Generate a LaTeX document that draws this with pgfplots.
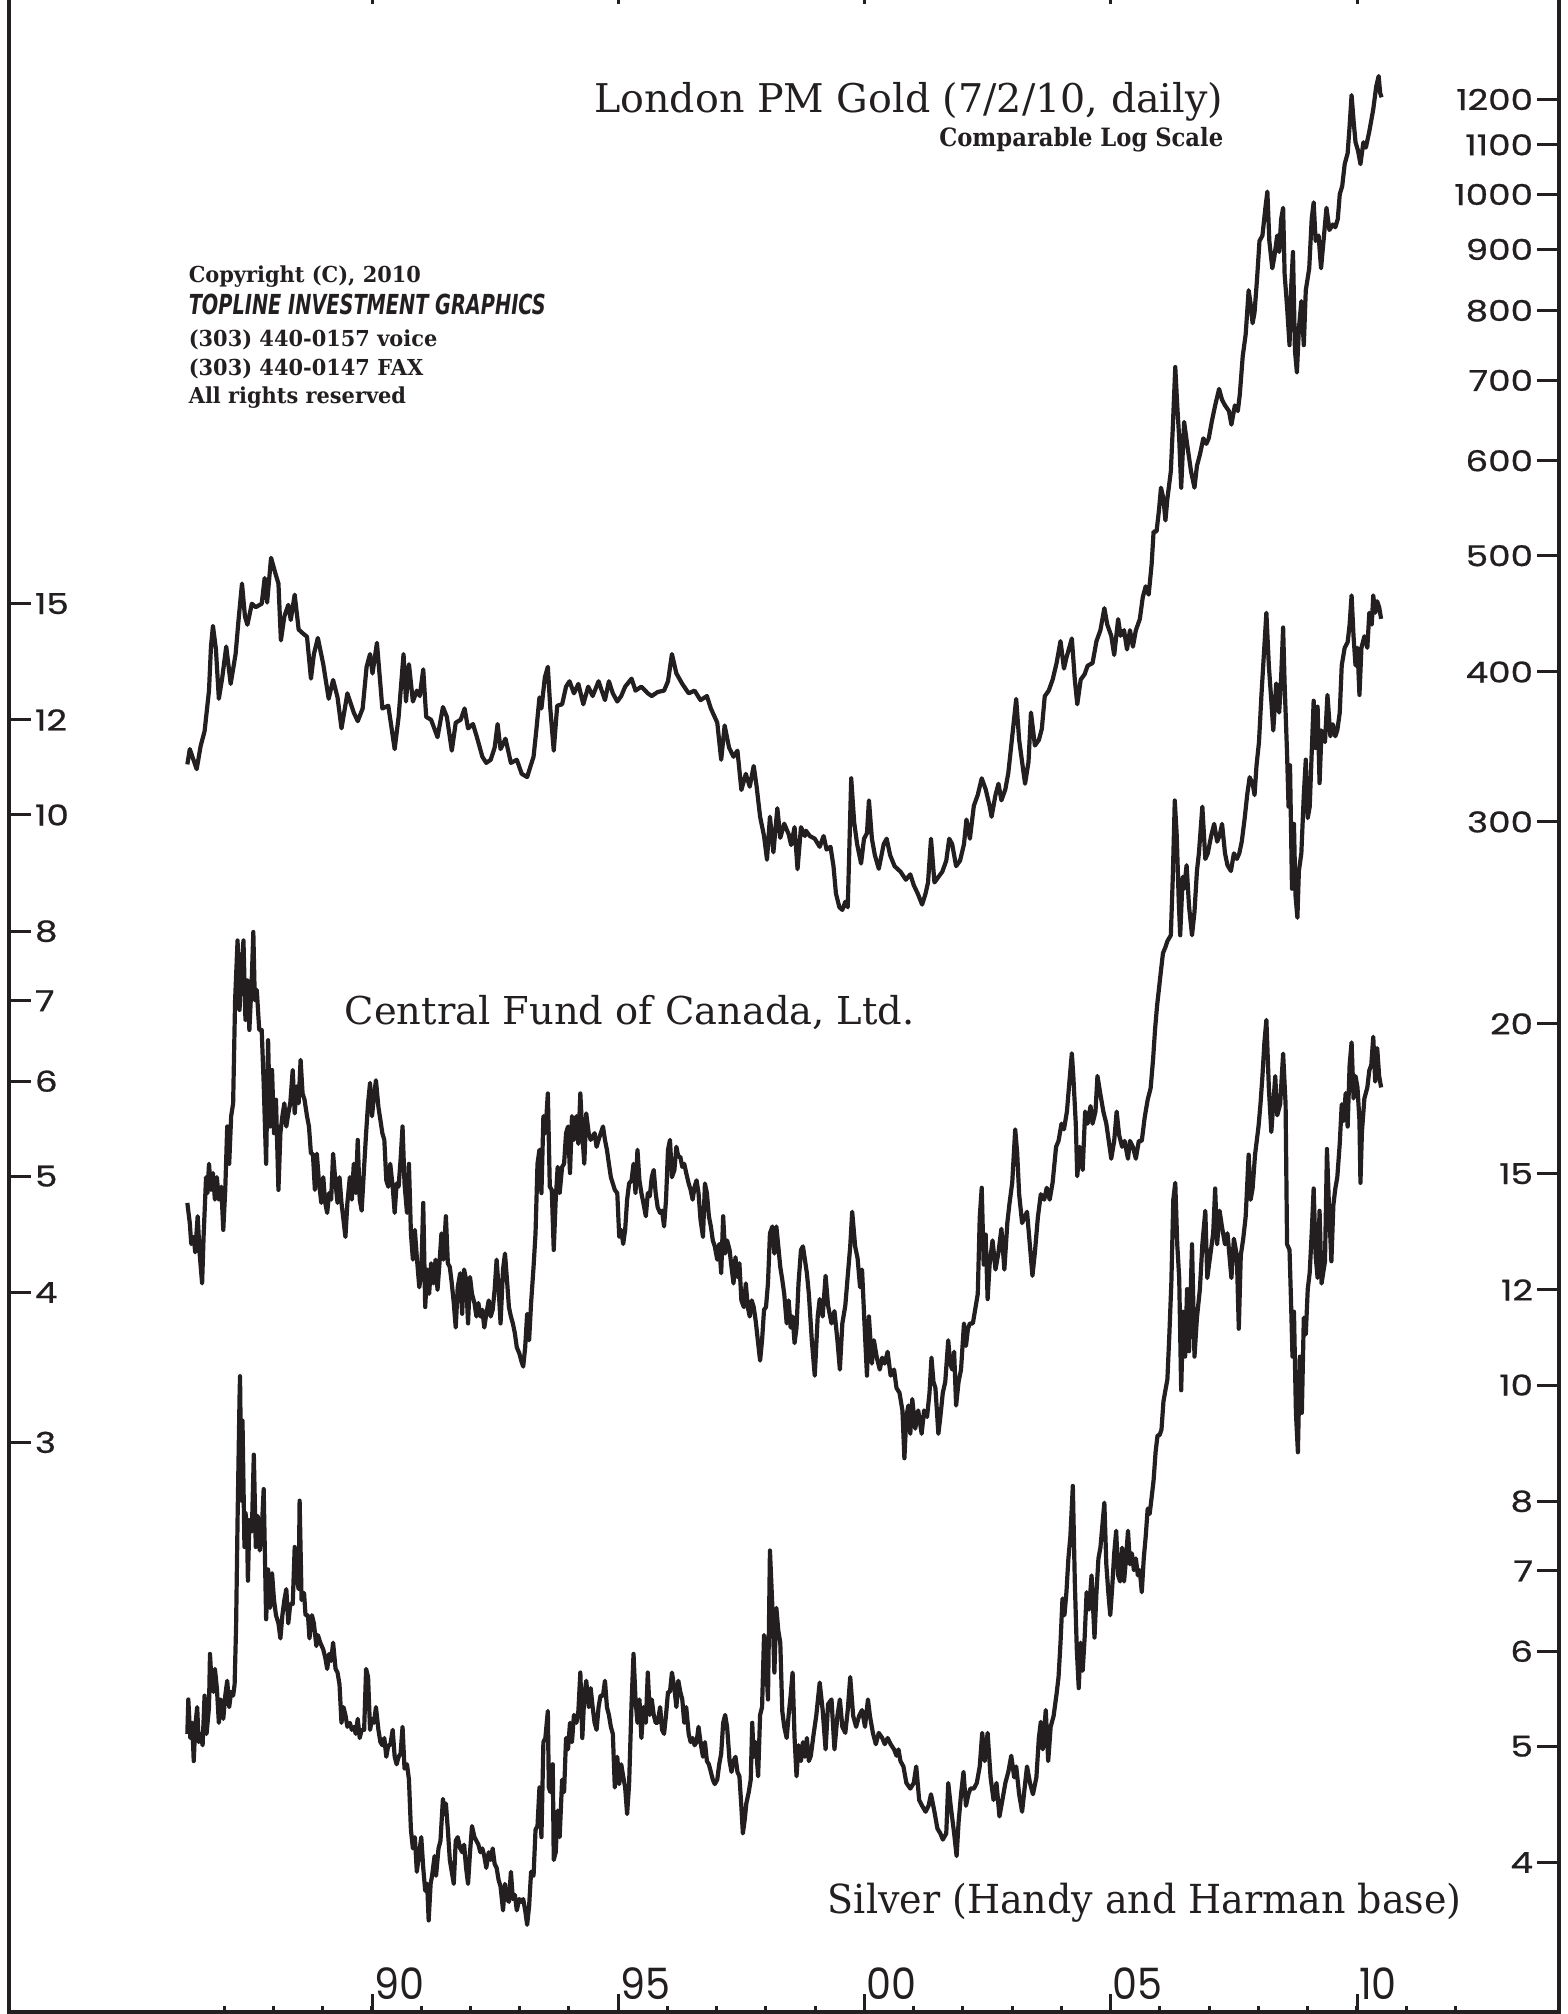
\documentclass[border=0pt]{standalone}
\usepackage{pgfplots}
\pgfplotsset{compat=1.18}
\usepackage{fontspec}
\setmainfont{DejaVu Serif}
\newfontfamily\tickfont{Poppins}
\newfontfamily\ytickfont[FakeBold=0.7]{Poppins}
\newfontfamily\sansfont{DejaVu Sans}
\definecolor{ink}{HTML}{231F20}
\newcommand\yl[1]{\scalebox{1.24}[1]{#1}}
\newcommand\xl[1]{\scalebox{0.92}[1]{#1}}
\pgfplotsset{
  chartbox/.style={
    at={(0,0)}, anchor=south west,
    scale only axis, width=387.5pt, height=506.5pt,
    xmin=1982.629, xmax=2014.102,
    axis line style={draw=none},
    xtick=\empty, yminorticks=false, ytick align=inside,
    major tick length=5.5pt,
    tick style={ink, line width=0.75pt},
    yticklabel style={font=\ytickfont\fontsize{7.2}{7.2}\selectfont, text=ink, inner sep=0.5pt},
  },
  myser/.style={ink, line width=1.05pt, line join=round, mark=none},
}
\begin{document}
\begin{tikzpicture}
% frame and year ticks
\begin{axis}[at={(0,0)}, anchor=south west, scale only axis, width=387.5pt, height=506.5pt,
  xmin=1982.629, xmax=2014.102, ymin=0, ymax=1, ytick=\empty,
  xtick={1990,1995,2000,2005,2010}, xticklabels={\xl{90},\xl{95},\xl{00},\xl{05},\xl{10}},
  minor xtick={1987,...,2012}, xtick align=inside,
  major tick length=4.4pt, minor tick length=1.6pt,
  axis line style={ink, line width=1pt}, tick style={ink, line width=0.75pt},
  xticklabel style={font=\tickfont\fontsize{10.8}{10.8}\selectfont, text=ink, anchor=south west, inner sep=0pt, yshift=3pt, xshift=0.3pt}]
\end{axis}
% Gold
\begin{axis}[chartbox, ymode=log, ymin=30.58, ymax=1492.1,
  ytick={300,400,500,600,700,800,900,1000,1100,1200},
  yticklabels={\yl{300},\yl{400},\yl{500},\yl{600},\yl{700},\yl{800},\yl{900},\yl{1000},\yl{1100},\yl{1200}},
  ytick pos=right, yticklabel pos=right,
  yticklabel style={anchor=east, xshift=-5.8pt}]
\addplot[myser] coordinates {
(1986.25,335)(1986.30,345)(1986.44,332)(1986.52,347)(1986.60,357)(1986.69,386)(1986.73,420)(1986.77,437)(1986.83,418)(1986.89,380)(1986.96,396)(1987.04,420)(1987.13,391)(1987.23,414)(1987.29,442)(1987.36,474)(1987.42,445)(1987.47,438)(1987.56,456)(1987.64,453)(1987.76,456)(1987.82,479)(1987.87,457)(1987.95,498)(1988.04,483)(1988.10,474)(1988.15,425)(1988.22,445)(1988.30,455)(1988.35,442)(1988.43,464)(1988.51,434)(1988.59,431)(1988.68,428)(1988.76,395)(1988.82,414)(1988.90,427)(1989.01,406)(1989.12,380)(1989.21,394)(1989.30,381)(1989.38,359)(1989.50,384)(1989.63,370)(1989.71,364)(1989.81,373)(1989.89,404)(1989.96,414)(1990.01,399)(1990.10,423)(1990.21,373)(1990.33,375)(1990.46,345)(1990.54,367)(1990.64,414)(1990.69,378)(1990.75,406)(1990.83,378)(1990.91,386)(1990.97,382)(1991.04,402)(1991.10,367)(1991.20,365)(1991.33,353)(1991.44,374)(1991.52,367)(1991.62,344)(1991.70,363)(1991.80,365)(1991.88,373)(1991.95,359)(1992.05,362)(1992.13,353)(1992.24,340)(1992.32,336)(1992.41,338)(1992.49,346)(1992.55,362)(1992.61,345)(1992.71,352)(1992.82,336)(1992.94,338)(1993.04,329)(1993.15,327)(1993.21,333)(1993.28,340)(1993.34,359)(1993.40,381)(1993.44,373)(1993.51,396)(1993.57,404)(1993.62,373)(1993.69,344)(1993.76,375)(1993.86,376)(1993.94,389)(1994.01,393)(1994.10,384)(1994.19,391)(1994.29,376)(1994.39,389)(1994.48,382)(1994.60,393)(1994.73,379)(1994.81,393)(1994.89,384)(1994.98,378)(1995.06,382)(1995.14,389)(1995.27,395)(1995.35,386)(1995.47,389)(1995.60,384)(1995.68,382)(1995.80,385)(1995.93,386)(1996.01,393)(1996.09,414)(1996.18,399)(1996.30,391)(1996.43,384)(1996.55,386)(1996.67,379)(1996.80,382)(1996.88,373)(1997.01,363)(1997.09,338)(1997.16,361)(1997.25,346)(1997.34,340)(1997.42,344)(1997.50,319)(1997.59,329)(1997.67,321)(1997.75,334)(1997.81,321)(1997.88,303)(1997.96,292)(1998.02,279)(1998.08,303)(1998.15,283)(1998.23,308)(1998.29,291)(1998.37,299)(1998.46,293)(1998.51,287)(1998.58,297)(1998.64,274)(1998.71,297)(1998.79,292)
(1998.81,295)(1998.89,292)(1998.99,290.5)(1999.09,286)(1999.17,292)(1999.23,284.5)(1999.31,286)(1999.37,275.6)(1999.42,261.5)(1999.49,254.7)(1999.55,253.4)(1999.61,257.4)(1999.66,254.7)(1999.73,326.2)(1999.79,299.8)(1999.85,287.5)(1999.93,277)(1999.99,290.5)(2000.05,293.6)(2000.09,312.7)(2000.15,290.5)(2000.21,281.5)(2000.29,274.2)(2000.39,287.5)(2000.45,290.5)(2000.52,281.5)(2000.61,275.6)(2000.73,272.7)(2000.84,268.5)(2000.93,271.3)(2001.00,265.7)(2001.08,261.5)(2001.17,256)(2001.24,261.5)(2001.29,267.1)(2001.35,290.5)(2001.42,267.1)(2001.50,269.9)(2001.58,272.7)(2001.66,278.5)(2001.72,290.5)(2001.78,287.5)(2001.86,275.6)(2001.94,278.5)(2002.02,287.5)(2002.07,301.4)(2002.14,290.5)(2002.22,309.4)(2002.30,316)(2002.38,326.2)(2002.46,319.4)(2002.54,309.4)(2002.58,303)(2002.66,316)(2002.72,322.8)(2002.78,312.7)(2002.86,319.4)(2002.92,329.6)(2002.98,347.4)(2003.08,379.9)(2003.14,351.1)(2003.20,336.6)(2003.26,322.8)(2003.33,336.6)(2003.38,370.1)(2003.46,347.4)(2003.54,351.1)(2003.60,358.6)(2003.66,381.9)(2003.74,386)(2003.82,394.2)(2003.90,406.9)(2003.98,424.4)(2004.05,402.6)(2004.10,411.1)(2004.21,426.6)(2004.27,394.2)(2004.32,376)(2004.39,394.2)(2004.47,398.4)(2004.53,404.8)(2004.63,406.9)(2004.71,424.4)(2004.79,433.4)(2004.87,452.1)(2004.93,438)(2005.01,428.8)(2005.07,413.3)(2005.15,442.7)(2005.20,428.8)(2005.27,433.4)(2005.33,417.7)(2005.39,433.4)(2005.45,419.9)(2005.51,433.4)(2005.59,442.7)(2005.65,461.7)(2005.71,471.5)(2005.77,464)(2005.83,491.8)(2005.87,523.7)(2005.93,523.7)(2005.98,546.2)(2006.02,569.7)(2006.07,557.8)(2006.11,535)(2006.15,557.8)(2006.22,587.9)(2006.26,639.6)(2006.31,718.2)(2006.35,667.2)(2006.39,626.3)(2006.43,569.7)(2006.49,646.4)(2006.55,619.7)(2006.63,587.9)(2006.70,569.7)(2006.75,594)(2006.81,607)(2006.88,626.3)(2006.94,619.7)(2006.99,626.3)(2007.05,646.4)(2007.12,667.2)(2007.20,688.6)(2007.26,674.3)(2007.32,667.2)(2007.40,660)(2007.45,643)(2007.52,667.2)(2007.58,660)(2007.62,681)(2007.68,733.4)(2007.74,764.9)(2007.80,832.1)(2007.84,810.5)(2007.88,781.2)(2007.92,797.8)(2007.97,849.8)(2008.02,914.6)(2008.08,924.3)(2008.14,974.7)(2008.18,1005.6)(2008.22,914.6)(2008.28,867.9)(2008.32,886.3)(2008.38,924.3)(2008.42,895.6)(2008.46,954)(2008.50,974.7)(2008.53,858.8)(2008.58,806.2)(2008.63,749)(2008.66,832)(2008.70,895.6)(2008.74,741)(2008.78,710.6)(2008.82,773)(2008.87,814.8)(2008.92,749)(2008.96,832)(2009.03,867.9)(2009.08,954)(2009.12,985)(2009.16,914.6)(2009.22,924.3)(2009.27,867.9)(2009.32,914.6)(2009.38,974.7)(2009.44,934.1)(2009.51,944)(2009.56,939)(2009.61,954)(2009.65,1000.4)(2009.70,1016.3)(2009.75,1060)(2009.81,1082.3)(2009.85,1140.7)(2009.89,1210)(2009.93,1152.7)(2009.97,1105.4)(2010.02,1088)(2010.07,1060)(2010.13,1105.4)(2010.18,1094)(2010.25,1128.8)(2010.33,1177.5)(2010.39,1230)(2010.44,1255)(2010.47,1215)(2010.50,1205)
};
\end{axis}
% Central Fund of Canada
\begin{axis}[chartbox, ymode=log, ymin=1.0056, ymax=49.07,
  ytick={3,4,5,6,7,8,10,12,15},
  yticklabels={\yl{3},\yl{4},\yl{5},\yl{6},\yl{7},\yl{8},\yl{10},\yl{12},\yl{15}},
  ytick pos=left, yticklabel pos=left,
  yticklabel style={anchor=west, xshift=5.8pt}]
\addplot[myser] coordinates {
(1986.25,4.75)(1986.30,4.57)(1986.33,4.39)(1986.38,4.45)(1986.41,4.32)(1986.46,4.63)(1986.50,4.31)(1986.55,4.07)(1986.58,4.45)(1986.63,4.99)(1986.66,4.84)(1986.69,5.12)(1986.73,4.87)(1986.77,5.03)(1986.81,4.78)(1986.85,4.99)(1986.89,4.78)(1986.94,4.90)(1986.98,4.51)(1987.02,4.87)(1987.06,5.50)(1987.10,5.12)(1987.14,5.61)(1987.18,5.75)(1987.22,7.01)(1987.27,7.86)(1987.31,6.88)(1987.35,7.47)(1987.39,7.86)(1987.43,6.75)(1987.47,7.28)(1987.51,6.62)(1987.56,7.33)(1987.59,7.99)(1987.62,7.01)(1987.66,7.15)(1987.71,6.62)(1987.76,6.62)(1987.80,5.98)(1987.85,5.12)(1987.89,6.49)(1987.93,5.50)(1987.97,6.13)(1988.01,5.43)(1988.05,5.79)(1988.10,4.87)(1988.14,5.43)(1988.18,5.61)(1988.22,5.75)(1988.26,5.50)(1988.30,5.64)(1988.34,5.75)(1988.39,6.13)(1988.43,5.64)(1988.47,5.94)(1988.51,5.75)(1988.55,6.25)(1988.59,5.86)(1988.63,5.79)(1988.68,5.61)(1988.72,5.50)(1988.76,5.22)(1988.80,5.22)(1988.84,4.87)(1988.88,5.22)(1988.92,4.96)(1988.97,4.75)(1989.01,4.99)(1989.05,4.75)(1989.09,4.66)(1989.13,4.84)(1989.17,4.78)(1989.21,5.22)(1989.26,4.93)(1989.30,4.75)(1989.34,4.99)(1989.38,4.75)(1989.42,4.60)(1989.46,4.45)(1989.50,4.75)(1989.55,4.99)(1989.59,4.78)(1989.63,5.12)(1989.67,4.84)(1989.71,5.36)(1989.75,4.78)(1989.79,4.68)(1989.84,5.09)(1989.88,5.43)(1989.92,5.75)(1989.96,5.98)(1990.00,5.61)(1990.04,5.83)(1990.08,6.01)(1990.13,5.71)(1990.17,5.57)(1990.21,5.43)(1990.25,5.36)(1990.29,4.96)(1990.33,4.90)(1990.37,5.12)(1990.42,4.90)(1990.46,4.66)(1990.50,4.93)(1990.54,4.90)(1990.58,5.16)(1990.62,5.50)(1990.66,4.93)(1990.71,4.66)(1990.75,5.12)(1990.79,4.48)(1990.83,4.26)(1990.87,4.51)(1990.91,4.28)(1990.96,4.04)(1991.00,4.15)(1991.04,4.75)(1991.08,3.89)(1991.12,4.18)(1991.16,3.99)(1991.20,4.23)(1991.25,4.07)(1991.29,4.26)(1991.33,4.02)(1991.37,4.23)(1991.41,4.48)(1991.45,4.26)(1991.50,4.63)(1991.54,4.23)(1991.58,4.20)(1991.62,4.07)(1991.66,3.92)(1991.70,3.74)(1991.74,4.04)(1991.79,4.15)(1991.83,3.84)(1991.87,4.18)(1991.91,4.10)(1991.95,3.77)(1991.99,4.12)(1992.03,3.99)(1992.08,3.92)(1992.12,3.82)(1992.16,3.92)(1992.20,3.82)(1992.24,3.87)(1992.28,3.74)(1992.32,3.84)(1992.37,3.94)(1992.41,3.82)(1992.45,3.87)(1992.49,4.02)(1992.53,4.26)(1992.57,4.04)(1992.61,3.77)(1992.66,4.18)(1992.70,4.31)(1992.74,4.10)(1992.78,3.89)(1992.82,3.82)(1992.86,3.77)(1992.90,3.70)(1992.94,3.60)(1992.99,3.56)(1993.03,3.51)(1993.07,3.47)(1993.11,3.60)(1993.15,3.84)(1993.19,3.65)(1993.23,3.92)(1993.28,4.20)(1993.32,4.48)(1993.36,5.12)(1993.40,5.26)(1993.44,4.84)(1993.48,5.61)(1993.52,5.43)(1993.57,5.86)(1993.61,4.90)(1993.65,4.87)(1993.69,4.34)(1993.73,4.78)(1993.77,5.09)(1993.81,4.84)(1993.86,5.09)(1993.90,5.12)(1993.94,5.43)(1993.98,5.50)(1994.02,5.03)(1994.06,5.61)(1994.10,5.36)(1994.15,5.61)(1994.19,5.32)(1994.23,5.86)(1994.27,5.43)(1994.31,5.12)(1994.35,5.64)(1994.40,5.43)(1994.44,5.36)(1994.52,5.43)(1994.56,5.29)(1994.60,5.36)(1994.69,5.50)(1994.73,5.36)(1994.77,5.26)(1994.81,5.12)(1994.85,4.99)(1994.89,4.93)(1994.93,4.87)(1994.98,4.84)(1995.02,4.45)(1995.06,4.51)(1995.10,4.39)(1995.14,4.51)(1995.18,4.78)(1995.22,4.93)(1995.27,4.96)(1995.31,5.12)(1995.35,4.84)(1995.39,5.26)(1995.43,4.96)(1995.47,4.84)(1995.51,4.75)(1995.56,4.63)(1995.60,4.84)(1995.64,4.81)(1995.68,4.99)(1995.72,5.06)(1995.76,4.84)(1995.80,4.71)(1995.85,4.66)(1995.89,4.68)(1995.93,4.54)(1995.97,4.78)(1996.01,5.26)(1996.05,5.36)(1996.09,4.99)(1996.14,5.06)(1996.18,5.29)(1996.22,5.19)(1996.26,5.19)(1996.30,5.09)(1996.34,5.12)(1996.38,5.03)(1996.43,4.93)(1996.47,4.87)(1996.51,4.78)(1996.55,4.90)(1996.59,4.96)(1996.63,4.84)(1996.67,4.60)(1996.72,4.45)(1996.76,4.93)(1996.80,4.84)(1996.84,4.63)(1996.88,4.54)(1996.92,4.42)(1996.96,4.37)(1997.01,4.26)(1997.05,4.39)(1997.09,4.15)(1997.13,4.63)(1997.17,4.31)(1997.21,4.42)(1997.26,4.34)(1997.30,4.20)(1997.34,4.07)(1997.38,4.28)(1997.42,4.12)(1997.46,4.23)(1997.50,3.94)(1997.55,3.89)(1997.59,4.07)(1997.63,3.89)(1997.67,3.82)(1997.71,3.94)(1997.75,3.89)(1997.79,3.79)(1997.84,3.63)(1997.88,3.51)(1997.92,3.65)(1997.96,3.87)(1998.00,3.89)(1998.04,4.07)(1998.08,4.48)(1998.13,4.54)(1998.17,4.31)(1998.21,4.54)(1998.25,4.37)(1998.29,4.20)(1998.33,4.10)(1998.37,3.99)(1998.42,3.77)(1998.46,3.94)(1998.50,3.74)(1998.54,3.82)(1998.58,3.63)(1998.62,3.74)(1998.66,4.07)(1998.71,4.34)(1998.75,4.37)(1998.79,4.26)(1998.83,4.15)(1998.87,3.99)
(1998.93,3.65)(1998.99,3.41)(1999.05,3.82)(1999.09,3.95)(1999.15,3.82)(1999.21,4.13)(1999.26,3.90)(1999.33,3.77)(1999.39,3.86)(1999.45,3.65)(1999.50,3.45)(1999.55,3.77)(1999.61,3.90)(1999.66,4.13)(1999.71,4.37)(1999.75,4.67)(1999.81,4.37)(1999.86,4.27)(1999.91,4.04)(1999.95,4.18)(2000.01,3.69)(2000.05,3.41)(2000.09,3.82)(2000.15,3.49)(2000.19,3.65)(2000.25,3.53)(2000.31,3.45)(2000.36,3.53)(2000.41,3.49)(2000.47,3.57)(2000.53,3.41)(2000.60,3.45)(2000.65,3.33)(2000.71,3.30)(2000.77,3.19)(2000.81,2.91)(2000.85,3.15)(2000.89,3.22)(2000.93,3.05)(2000.97,3.26)(2001.03,3.08)(2001.09,3.19)(2001.16,3.05)(2001.21,3.19)(2001.27,3.15)(2001.32,3.30)(2001.36,3.53)(2001.40,3.37)(2001.44,3.33)(2001.50,3.05)(2001.54,3.15)(2001.59,3.30)(2001.64,3.37)(2001.70,3.65)(2001.74,3.49)(2001.78,3.45)(2001.82,3.57)(2001.86,3.22)(2001.91,3.37)(2001.96,3.45)(2002.02,3.77)(2002.06,3.61)(2002.10,3.73)(2002.14,3.77)(2002.20,3.77)(2002.26,3.90)(2002.30,3.99)(2002.34,4.62)(2002.38,4.89)(2002.42,4.22)(2002.46,4.47)(2002.50,3.95)(2002.54,4.22)(2002.60,4.42)(2002.66,4.18)(2002.72,4.32)(2002.78,4.52)(2002.84,4.18)(2002.90,4.57)(2002.94,4.73)(2003.00,4.94)(2003.06,5.47)(2003.10,5.23)(2003.14,4.83)(2003.20,4.57)(2003.25,4.62)(2003.30,4.67)(2003.36,4.37)(2003.41,4.13)(2003.46,4.32)(2003.52,4.62)(2003.58,4.83)(2003.65,4.78)(2003.70,4.89)(2003.76,4.78)(2003.82,4.94)(2003.89,5.29)(2003.94,5.35)(2004.00,5.53)(2004.05,5.47)(2004.11,5.66)(2004.16,5.99)(2004.21,6.33)(2004.24,6.06)(2004.29,5.53)(2004.32,5.00)(2004.37,5.29)(2004.43,5.06)(2004.48,5.66)(2004.53,5.53)(2004.59,5.72)(2004.63,5.53)(2004.69,5.66)(2004.73,6.06)(2004.79,5.85)(2004.85,5.66)(2004.91,5.53)(2004.96,5.35)(2005.01,5.17)(2005.07,5.35)(2005.12,5.66)(2005.17,5.41)(2005.23,5.29)(2005.28,5.35)(2005.35,5.17)(2005.39,5.35)(2005.45,5.29)(2005.51,5.17)(2005.57,5.35)(2005.63,5.35)(2005.69,5.60)(2005.75,5.79)(2005.81,5.92)(2005.86,6.26)(2005.90,6.63)(2005.94,6.93)(2005.98,7.17)(2006.02,7.42)(2006.06,7.67)(2006.11,7.76)(2006.15,7.85)(2006.22,7.94)(2006.26,8.88)(2006.30,10.28)(2006.34,9.61)(2006.38,8.49)(2006.41,7.94)(2006.46,8.88)(2006.49,8.68)(2006.54,9.08)(2006.59,8.39)(2006.65,7.94)(2006.70,8.30)(2006.75,8.98)(2006.79,9.29)(2006.86,10.16)(2006.92,9.19)(2006.97,9.29)(2007.04,9.61)(2007.10,9.83)(2007.16,9.50)(2007.21,9.61)(2007.26,9.83)(2007.32,9.29)(2007.37,9.08)(2007.44,8.98)(2007.50,9.29)(2007.56,9.19)(2007.61,9.29)(2007.66,9.50)(2007.72,9.94)(2007.77,10.39)(2007.82,10.75)(2007.88,10.63)(2007.92,10.39)(2007.96,11.00)(2008.01,11.50)(2008.06,12.59)(2008.11,13.62)(2008.16,14.74)(2008.21,13.32)(2008.26,12.45)(2008.30,11.76)(2008.36,12.87)(2008.42,12.17)(2008.46,13.02)(2008.50,14.33)(2008.53,12.87)(2008.58,11.25)(2008.61,10.16)(2008.64,11.00)(2008.68,8.68)(2008.72,9.83)(2008.75,8.58)(2008.79,8.21)(2008.82,8.98)(2008.87,9.29)(2008.92,10.39)(2008.96,11.12)(2009.00,9.94)(2009.04,10.16)(2009.08,11.25)(2009.12,12.45)(2009.16,11.37)(2009.20,12.31)(2009.24,10.63)(2009.28,11.76)(2009.35,11.50)(2009.40,12.59)(2009.46,11.63)(2009.51,11.90)(2009.56,11.63)(2009.60,11.76)(2009.65,12.17)(2009.69,13.32)(2009.75,13.78)(2009.81,13.93)(2009.85,14.41)(2009.89,15.24)(2009.93,14.09)(2009.97,13.32)(2010.01,13.78)(2010.05,12.59)(2010.09,13.78)(2010.15,14.09)(2010.21,13.78)(2010.25,14.74)(2010.30,14.41)(2010.33,15.24)(2010.37,14.74)(2010.41,15.07)(2010.45,14.90)(2010.49,14.57)
};
\end{axis}
% Silver
\begin{axis}[chartbox, ymode=log, ymin=3.003, ymax=146.5,
  ytick={4,5,6,7,8,10,12,15,20},
  yticklabels={\yl{4},\yl{5},\yl{6},\yl{7},\yl{8},\yl{10},\yl{12},\yl{15},\yl{20}},
  ytick pos=right, yticklabel pos=right,
  yticklabel style={anchor=east, xshift=-5.8pt}]
\addplot[myser] coordinates {
(1986.25,5.12)(1986.27,5.47)(1986.31,5.08)(1986.35,5.23)(1986.38,4.86)(1986.41,5.19)(1986.45,5.39)(1986.48,5.04)(1986.52,5.12)(1986.56,5.01)(1986.60,5.51)(1986.64,5.12)(1986.69,5.39)(1986.71,5.97)(1986.74,5.67)(1986.78,5.55)(1986.81,5.80)(1986.85,5.59)(1986.89,5.23)(1986.93,5.47)(1986.98,5.27)(1987.02,5.51)(1987.06,5.67)(1987.10,5.39)(1987.14,5.55)(1987.18,5.51)(1987.21,5.63)(1987.24,6.29)(1987.27,7.72)(1987.31,9.76)(1987.32,10.17)(1987.35,8.01)(1987.37,9.34)(1987.41,7.33)(1987.43,7.83)(1987.46,7.66)(1987.48,6.87)(1987.51,7.72)(1987.56,7.55)(1987.60,8.75)(1987.64,7.33)(1987.68,7.78)(1987.72,7.28)(1987.76,7.55)(1987.80,8.19)(1987.85,6.38)(1987.89,7.02)(1987.93,6.52)(1987.97,6.97)(1988.01,6.62)(1988.05,6.43)(1988.10,6.33)(1988.14,6.15)(1988.18,6.43)(1988.22,6.62)(1988.26,6.76)(1988.30,6.33)(1988.34,6.57)(1988.39,6.57)(1988.43,7.33)(1988.47,6.91)(1988.51,6.76)(1988.53,8.01)(1988.57,6.62)(1988.62,6.71)(1988.65,6.43)(1988.70,6.43)(1988.73,6.15)(1988.78,6.43)(1988.82,6.33)(1988.87,6.06)(1988.90,6.19)(1988.95,6.10)(1989.01,6.02)(1989.05,5.93)(1989.09,5.80)(1989.13,5.97)(1989.17,5.89)(1989.21,6.10)(1989.26,5.80)(1989.30,5.76)(1989.34,5.63)(1989.38,5.23)(1989.42,5.39)(1989.46,5.31)(1989.50,5.19)(1989.55,5.23)(1989.59,5.16)(1989.63,5.19)(1989.67,5.12)(1989.71,5.27)(1989.75,5.08)(1989.79,5.16)(1989.84,5.16)(1989.88,5.80)(1989.92,5.71)(1989.96,5.16)(1990.00,5.27)(1990.04,5.23)(1990.08,5.39)(1990.13,5.16)(1990.17,5.04)(1990.21,5.01)(1990.25,5.08)(1990.29,4.90)(1990.33,5.01)(1990.37,5.01)(1990.42,5.16)(1990.46,4.90)(1990.50,4.83)(1990.54,4.90)(1990.58,4.93)(1990.62,5.19)(1990.66,4.79)(1990.71,4.83)(1990.75,4.69)(1990.79,4.26)(1990.83,4.11)(1990.87,4.20)(1990.91,3.93)(1990.96,4.08)(1991.00,4.20)(1991.04,3.96)(1991.08,3.79)(1991.12,3.84)(1991.15,3.58)(1991.19,3.84)(1991.22,3.90)(1991.27,4.05)(1991.30,3.90)(1991.35,4.11)(1991.39,4.17)(1991.44,4.52)(1991.47,4.39)(1991.50,4.48)(1991.54,4.26)(1991.58,4.02)(1991.62,3.93)(1991.66,3.84)(1991.70,4.17)(1991.74,4.20)(1991.79,4.11)(1991.83,4.08)(1991.87,4.14)(1991.91,3.96)(1991.95,3.84)(1991.99,4.08)(1992.03,4.29)(1992.08,4.20)(1992.12,4.17)(1992.16,4.14)(1992.20,4.08)(1992.24,4.11)(1992.28,4.05)(1992.32,3.96)(1992.37,4.08)(1992.41,4.02)(1992.45,4.11)(1992.49,3.99)(1992.53,3.96)(1992.57,3.87)(1992.61,3.82)(1992.66,3.65)(1992.70,3.84)(1992.74,3.73)(1992.78,3.71)(1992.82,3.93)(1992.86,3.73)(1992.90,3.76)(1992.94,3.65)(1992.99,3.73)(1993.03,3.71)(1993.07,3.73)(1993.11,3.65)(1993.15,3.55)(1993.19,3.68)(1993.23,3.93)(1993.28,3.90)(1993.32,4.26)(1993.36,4.29)(1993.40,4.62)(1993.44,4.20)(1993.48,5.04)(1993.52,5.08)(1993.57,5.35)(1993.59,4.62)(1993.62,4.58)(1993.67,4.83)(1993.69,4.02)(1993.73,4.08)(1993.77,4.42)(1993.81,4.20)(1993.86,4.69)(1993.90,4.58)(1993.94,5.08)(1993.98,4.97)(1994.02,5.23)(1994.06,5.04)(1994.10,5.31)(1994.15,5.23)(1994.19,5.35)(1994.23,5.76)(1994.27,5.08)(1994.31,5.51)(1994.35,5.67)(1994.40,5.39)(1994.44,5.59)(1994.48,5.39)(1994.52,5.23)(1994.56,5.16)(1994.60,5.39)(1994.64,5.51)(1994.69,5.51)(1994.73,5.67)(1994.77,5.39)(1994.81,5.31)(1994.85,5.19)(1994.89,5.12)(1994.93,4.62)(1994.98,4.90)(1995.02,4.65)(1995.06,4.83)(1995.10,4.72)(1995.14,4.62)(1995.18,4.39)(1995.22,4.65)(1995.27,5.43)(1995.31,5.97)(1995.35,5.47)(1995.39,5.23)(1995.43,5.47)(1995.47,5.08)(1995.51,5.39)(1995.56,5.23)(1995.60,5.76)(1995.64,5.31)(1995.68,5.47)(1995.72,5.31)(1995.76,5.23)(1995.80,5.23)(1995.85,5.39)(1995.89,5.16)(1995.93,5.12)(1995.97,5.31)(1996.01,5.55)(1996.05,5.55)(1996.09,5.76)(1996.14,5.59)(1996.18,5.39)(1996.22,5.67)(1996.26,5.55)(1996.30,5.47)(1996.34,5.23)(1996.38,5.39)(1996.43,5.12)(1996.47,5.04)(1996.51,5.08)(1996.55,5.01)(1996.59,5.04)(1996.63,5.19)(1996.67,5.04)(1996.72,4.90)(1996.76,5.04)(1996.80,4.86)(1996.84,4.83)(1996.88,4.76)(1996.92,4.69)(1996.96,4.65)(1997.01,4.69)(1997.05,4.83)(1997.09,4.93)(1997.13,5.23)(1997.17,5.31)(1997.21,5.19)(1997.26,4.86)(1997.30,4.76)(1997.34,4.86)(1997.38,4.90)(1997.42,4.76)(1997.46,4.72)(1997.50,4.45)(1997.53,4.23)(1997.57,4.35)(1997.60,4.48)(1997.65,4.58)(1997.69,4.69)(1997.72,5.23)(1997.75,4.90)(1997.79,5.04)(1997.84,4.72)(1997.88,5.31)(1997.92,5.39)(1997.96,6.19)(1998.00,5.89)(1998.04,5.47)(1998.08,7.28)(1998.13,6.52)(1998.17,5.76)(1998.21,6.52)(1998.25,6.24)(1998.29,6.10)(1998.33,5.35)(1998.37,5.19)(1998.42,5.08)(1998.46,5.31)(1998.50,5.51)(1998.54,5.76)(1998.58,5.08)(1998.62,4.72)(1998.66,5.01)(1998.71,4.86)(1998.75,5.04)(1998.79,4.90)(1998.83,5.08)(1998.87,4.86)
(1998.91,4.91)(1998.97,5.13)(1999.02,5.30)(1999.09,5.65)(1999.15,5.36)(1999.21,4.97)(1999.26,5.42)(1999.33,5.47)(1999.39,4.97)(1999.45,5.30)(1999.50,5.47)(1999.55,5.19)(1999.61,5.13)(1999.66,5.36)(1999.71,5.71)(1999.77,5.30)(1999.83,5.19)(1999.89,5.30)(1999.95,5.36)(2000.01,5.19)(2000.07,5.47)(2000.11,5.30)(2000.17,5.13)(2000.23,5.02)(2000.29,5.13)(2000.36,5.08)(2000.41,5.02)(2000.47,5.08)(2000.53,5.02)(2000.60,4.97)(2000.65,4.91)(2000.69,4.97)(2000.73,4.86)(2000.79,4.81)(2000.85,4.66)(2000.93,4.61)(2001.00,4.66)(2001.05,4.81)(2001.11,4.51)(2001.17,4.46)(2001.24,4.41)(2001.30,4.46)(2001.35,4.56)(2001.42,4.41)(2001.48,4.27)(2001.54,4.23)(2001.59,4.18)(2001.66,4.23)(2001.70,4.66)(2001.75,4.46)(2001.82,4.23)(2001.87,4.05)(2001.91,4.32)(2001.96,4.56)(2002.01,4.76)(2002.06,4.46)(2002.11,4.56)(2002.15,4.61)(2002.22,4.61)(2002.28,4.66)(2002.34,4.81)(2002.39,5.13)(2002.44,4.86)(2002.50,5.13)(2002.56,4.71)(2002.62,4.51)(2002.68,4.66)(2002.74,4.37)(2002.80,4.51)(2002.86,4.66)(2002.92,4.76)(2002.98,4.91)(2003.04,4.71)(2003.08,4.81)(2003.14,4.56)(2003.20,4.41)(2003.25,4.61)(2003.30,4.81)(2003.36,4.66)(2003.42,4.56)(2003.49,4.71)(2003.54,5.08)(2003.58,5.24)(2003.62,4.97)(2003.68,5.36)(2003.73,4.86)(2003.78,5.19)(2003.84,5.30)(2003.90,5.53)(2003.94,5.71)(2003.98,6.10)(2004.02,6.64)(2004.06,6.43)(2004.10,6.72)(2004.14,7.17)(2004.18,7.48)(2004.23,8.24)(2004.27,6.86)(2004.31,6.03)(2004.35,5.59)(2004.39,6.10)(2004.43,5.78)(2004.47,6.16)(2004.51,6.72)(2004.56,6.50)(2004.61,6.94)(2004.67,6.16)(2004.71,6.72)(2004.75,7.17)(2004.79,7.32)(2004.83,7.64)(2004.87,7.98)(2004.91,7.09)(2004.95,6.72)(2004.99,6.43)(2005.03,6.79)(2005.07,7.24)(2005.11,7.56)(2005.15,6.94)(2005.19,6.86)(2005.23,7.32)(2005.27,6.86)(2005.31,7.17)(2005.35,7.56)(2005.39,7.09)(2005.43,7.24)(2005.47,7.01)(2005.51,7.17)(2005.55,6.94)(2005.59,7.01)(2005.63,6.72)(2005.67,7.17)(2005.71,7.48)(2005.75,7.89)(2005.79,7.81)(2005.83,8.06)(2005.87,8.33)(2005.91,8.79)(2005.95,9.08)(2005.99,9.08)(2006.03,9.18)(2006.07,9.69)(2006.11,9.90)(2006.15,10.11)(2006.19,11.02)(2006.23,12.15)(2006.27,14.27)(2006.31,14.74)(2006.35,13.10)(2006.39,12.28)(2006.43,9.90)(2006.47,11.51)(2006.51,10.56)(2006.55,12.02)(2006.59,10.67)(2006.65,13.10)(2006.70,10.56)(2006.75,11.38)(2006.81,12.02)(2006.86,13.10)(2006.92,13.97)(2006.96,12.28)(2007.02,12.82)(2007.08,13.38)(2007.12,14.58)(2007.16,13.10)(2007.21,13.97)(2007.26,13.53)(2007.32,13.10)(2007.37,13.38)(2007.42,12.68)(2007.45,12.28)(2007.50,13.24)(2007.56,12.82)(2007.60,11.14)(2007.64,12.82)(2007.69,13.24)(2007.74,13.82)(2007.80,15.56)(2007.84,14.27)(2007.88,14.58)(2007.93,15.56)(2008.00,16.42)(2008.04,17.14)(2008.08,18.09)(2008.12,19.30)(2008.16,20.15)(2008.21,17.70)(2008.26,16.25)(2008.30,17.14)(2008.34,18.09)(2008.38,16.78)(2008.44,17.14)(2008.50,18.89)(2008.55,17.14)(2008.58,13.10)(2008.63,12.96)(2008.66,11.76)(2008.69,10.56)(2008.72,11.51)(2008.76,9.48)(2008.80,8.79)(2008.84,10.56)(2008.88,9.48)(2008.92,11.38)(2008.96,11.02)(2009.00,12.02)(2009.04,12.41)(2009.08,13.38)(2009.12,14.58)(2009.16,12.82)(2009.20,12.28)(2009.24,13.97)(2009.28,12.15)(2009.35,12.68)(2009.39,15.73)(2009.43,14.12)(2009.48,12.68)(2009.52,14.12)(2009.56,14.58)(2009.60,14.90)(2009.65,15.90)(2009.69,17.14)(2009.73,16.60)(2009.77,17.51)(2009.81,16.42)(2009.85,18.48)(2009.89,19.30)(2009.93,17.33)(2009.97,18.09)(2010.01,17.70)(2010.05,16.60)(2010.07,14.74)(2010.10,16.25)(2010.15,17.33)(2010.21,17.70)(2010.25,18.29)(2010.29,18.48)(2010.33,19.51)(2010.37,17.90)(2010.41,19.09)(2010.45,18.09)(2010.49,17.70)
};
\end{axis}
% texts
\node[anchor=base east, inner sep=0, text=ink] at (303.75pt,474.75pt) {\fontsize{9.9}{10}\selectfont London PM Gold (7/2/10, daily)};
\node[anchor=base east, inner sep=0, text=ink] at (303.75pt,466.25pt) {\scalebox{0.9}[1]{\fontsize{6.3}{6.5}\selectfont\bfseries Comparable Log Scale}};
\node[anchor=base west, inner sep=0, text=ink] at (44.75pt,432.3pt) {\scalebox{0.95}[1]{\fontsize{5.5}{6}\selectfont\bfseries Copyright (C), 2010}};
\node[anchor=base west, inner sep=0, text=ink] at (44.75pt,424.25pt) {\scalebox{0.7}[1]{\sansfont\bfseries\itshape\fontsize{6.9}{7}\selectfont TOPLINE INVESTMENT GRAPHICS}};
\node[anchor=base west, inner sep=0, text=ink] at (44.75pt,416.3pt) {\scalebox{0.95}[1]{\fontsize{5.5}{6}\selectfont\bfseries (303) 440-0157 voice}};
\node[anchor=base west, inner sep=0, text=ink] at (44.75pt,409pt) {\scalebox{0.95}[1]{\fontsize{5.5}{6}\selectfont\bfseries (303) 440-0147 FAX}};
\node[anchor=base west, inner sep=0, text=ink] at (44.75pt,402.2pt) {\scalebox{0.95}[1]{\fontsize{5.5}{6}\selectfont\bfseries All rights reserved}};
\node[anchor=base west, inner sep=0, text=ink] at (83.75pt,246.75pt) {\fontsize{9.6}{10}\selectfont Central Fund of Canada, Ltd.};
\node[anchor=base west, inner sep=0, text=ink] at (204.5pt,24.5pt) {\scalebox{0.95}[1]{\fontsize{10}{10}\selectfont Silver (Handy and Harman base)}};
\pgfresetboundingbox
\path[use as bounding box] (-2.25pt,-0.5pt) rectangle (389.5pt,503pt);
\end{tikzpicture}
\end{document}
